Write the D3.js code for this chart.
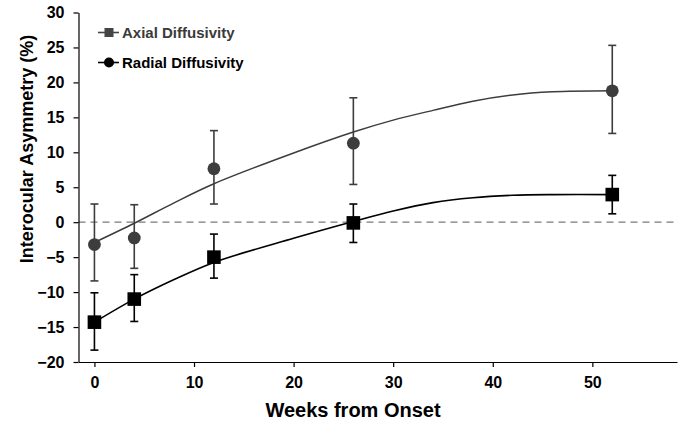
<!DOCTYPE html>
<html>
<head>
<meta charset="utf-8">
<script src="https://cdn.jsdelivr.net/npm/d3@7"></script>
<style>
  html, body { margin: 0; padding: 0; background: #fff; }
  svg { display: block; font-family: "Liberation Sans", Arial, sans-serif; }
</style>
</head>
<body>
<svg id="chart" width="683" height="424"></svg>
<script>
// ---- data ----
const weeks = [0, 4, 12, 26, 52];
// black squares (plot) — legend labels as in the reference
const squareMean  = [-14.3, -11.0, -5.0, -0.1, 3.95];
const squareUpper = [-10.1, -7.5, -1.7, 2.6, 6.7];
const squareLower = [-18.3, -14.2, -8.0, -2.9, 1.2];
// gray circles
const circleMean  = [-3.2, -2.25, 7.65, 11.3, 18.8];
const circleUpper = [2.6, 2.5, 13.1, 17.8, 25.3];
const circleLower = [-8.4, -6.6, 2.6, 5.4, 12.7];
// fitted trend lines
const fitWeeks       = [0, 4, 8, 12, 20, 26, 30, 34, 38, 42, 46, 52];
const fitSquareTrend = [-14.3, -11.0, -8.2, -5.75, -2.3, 0.1, 1.6, 2.8, 3.5, 3.85, 3.95, 3.95];
const fitCircleTrend = [-2.9, -0.15, 2.77, 5.5, 9.9, 12.9, 14.6, 16.0, 17.3, 18.2, 18.65, 18.8];
const xTicks = [0, 10, 20, 30, 40, 50];
const yTicks = [-20, -15, -10, -5, 0, 5, 10, 15, 20, 25, 30];
const legendLabels = ["Axial Diffusivity", "Radial Diffusivity"];
const xTitle = "Weeks from Onset";
const yTitle = "Interocular Asymmetry (%)";

// ---- layout ----
const svg = d3.select("#chart");
const x = d3.scaleLinear().domain([-1.6, 58.5]).range([78.5, 677]);
const y = d3.scaleLinear().domain([-20, 30]).range([362, 12.5]);

const gray = "#3d3d3d";

// zero reference line
svg.append("line")
  .attr("x1", x(-1.6)).attr("x2", x(58.5))
  .attr("y1", y(0)).attr("y2", y(0))
  .attr("stroke", "#7a7a7a").attr("stroke-width", 1.3)
  .attr("stroke-dasharray", "7,5");

// axes
const xAxis = d3.axisBottom(x).tickValues(xTicks).tickSize(5).tickPadding(10).tickSizeOuter(0);
const yAxis = d3.axisLeft(y).tickValues(yTicks).tickSize(5).tickPadding(9).tickSizeOuter(0);

const gx = svg.append("g").attr("transform", `translate(0,${y(-20)})`).call(xAxis);
const gy = svg.append("g").attr("transform", `translate(${x(-1.6)},0)`).call(yAxis);
[gx, gy].forEach(g => {
  g.select(".domain").attr("stroke", "#000").attr("stroke-width", 1.2);
  g.selectAll(".tick line").attr("stroke", "#000").attr("stroke-width", 1.2);
  g.selectAll(".tick text").attr("fill", "#000").attr("font-size", 16).attr("font-weight", "bold")
    .attr("font-family", "Liberation Sans, Arial, sans-serif");
});

// titles
svg.append("text").attr("x", 353).attr("y", 417)
  .attr("text-anchor", "middle").attr("font-size", 20).attr("font-weight", "bold")
  .text(xTitle);
svg.append("text").attr("transform", "translate(33,149) rotate(-90)")
  .attr("text-anchor", "middle").attr("font-size", 18).attr("font-weight", "bold")
  .text(yTitle);

// error bars
function errorBars(upper, lower, color) {
  const g = svg.append("g").attr("stroke", color).attr("stroke-width", 1.6);
  weeks.forEach((w, i) => {
    g.append("line").attr("x1", x(w)).attr("x2", x(w)).attr("y1", y(upper[i])).attr("y2", y(lower[i]));
    g.append("line").attr("x1", x(w) - 4).attr("x2", x(w) + 4).attr("y1", y(upper[i])).attr("y2", y(upper[i]));
    g.append("line").attr("x1", x(w) - 4).attr("x2", x(w) + 4).attr("y1", y(lower[i])).attr("y2", y(lower[i]));
  });
}
errorBars(circleUpper, circleLower, gray);
errorBars(squareUpper, squareLower, "#000");

// trend lines
const line = d3.line().x(d => x(d[0])).y(d => y(d[1])).curve(d3.curveCatmullRom.alpha(0.5));
svg.append("path").attr("d", line(fitWeeks.map((w, i) => [w, fitCircleTrend[i]])))
  .attr("fill", "none").attr("stroke", gray).attr("stroke-width", 1.5);
svg.append("path").attr("d", line(fitWeeks.map((w, i) => [w, fitSquareTrend[i]])))
  .attr("fill", "none").attr("stroke", "#000").attr("stroke-width", 1.6);

// markers
svg.append("g").selectAll("circle").data(weeks).join("circle")
  .attr("cx", d => x(d)).attr("cy", (d, i) => y(circleMean[i])).attr("r", 6.4)
  .attr("fill", gray);
const sq = 13.6;
svg.append("g").selectAll("rect").data(weeks).join("rect")
  .attr("x", d => x(d) - sq / 2).attr("y", (d, i) => y(squareMean[i]) - sq / 2)
  .attr("width", sq).attr("height", sq).attr("fill", "#000");

// legend
const lg = svg.append("g");
// Axial: gray square
lg.append("line").attr("x1", 98).attr("x2", 119).attr("y1", 32.5).attr("y2", 32.5)
  .attr("stroke", "#444").attr("stroke-width", 1.6);
lg.append("rect").attr("x", 104.5).attr("y", 28).attr("width", 9).attr("height", 9).attr("fill", "#444");
lg.append("text").attr("x", 122).attr("y", 38).attr("font-size", 15).attr("font-weight", "bold")
  .attr("fill", "#3a3a3a").text(legendLabels[0]);
// Radial: black circle
lg.append("line").attr("x1", 98).attr("x2", 119).attr("y1", 62.5).attr("y2", 62.5)
  .attr("stroke", "#000").attr("stroke-width", 1.6);
lg.append("circle").attr("cx", 109).attr("cy", 62.5).attr("r", 5).attr("fill", "#000");
lg.append("text").attr("x", 122).attr("y", 68).attr("font-size", 15).attr("font-weight", "bold")
  .attr("fill", "#000").text(legendLabels[1]);
</script>
</body>
</html>
